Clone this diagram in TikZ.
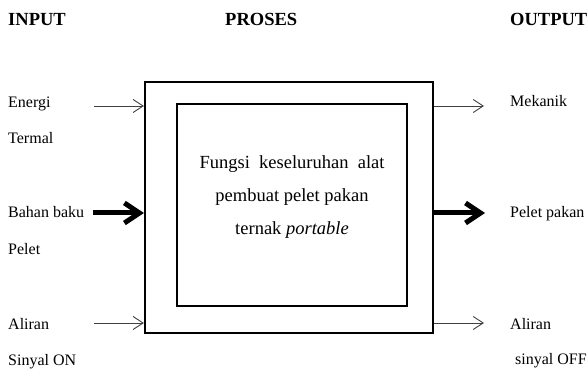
\documentclass[tikz,border=0pt]{standalone}
\usepackage{fontspec}
\setmainfont{Liberation Serif}
\usetikzlibrary{arrows.meta}
\tikzset{
  lbl/.style={anchor=base west, inner sep=0pt, font=\fontsize{16}{19}\selectfont},
  headlbl/.style={anchor=base west, inner sep=0pt, font=\fontsize{18.5}{22}\selectfont\bfseries},
  thinarrow/.style={draw=black!75, line width=0.9pt, -{Straight Barb[length=10pt,width=13pt]}},
  thickarrow/.style={line width=5pt, -{Straight Barb[length=15pt,width=20pt]}},
  box/.style={draw, line width=2.2pt, inner sep=0pt}
}
\begin{document}
\begin{tikzpicture}[x=1pt,y=-1pt]
  \useasboundingbox (0,0) rectangle (588,371);
  \node[box, minimum width=288pt, minimum height=251pt] (outer) at (289,207.5) {};
  \node[box, line width=2pt, minimum width=230pt, minimum height=202pt] (inner) at (292,205) {};
  \node[align=center, font=\fontsize{18.5}{33}\selectfont] (fungsi) at (292,197) {Fungsi\hspace{0.5em}keseluruhan\hspace{0.5em}alat\\pembuat pelet pakan\\ternak \textit{portable}};
  \node[headlbl] (input) at (8,26) {INPUT};
  \node[headlbl] (proses) at (225,26) {PROSES};
  \node[headlbl] (output) at (510,26) {OUTPUT};
  \coordinate (inA) at (94,106);
  \coordinate (inB) at (93,213);
  \coordinate (inC) at (94,323);
  \coordinate (outA) at (484,106);
  \coordinate (outB) at (485,213);
  \coordinate (outC) at (484,323);
  \draw[thinarrow] (inA) -- (inA -| outer.west);
  \draw[thickarrow] (inB) -- (inB -| outer.west);
  \draw[thinarrow] (inC) -- (inC -| outer.west);
  \draw[thinarrow] (outA -| outer.east) -- (outA);
  \draw[thickarrow] (outB -| outer.east) -- (outB);
  \draw[thinarrow] (outC -| outer.east) -- (outC);
  \node[lbl] (energi) at (8,108) {Energi};
  \node[lbl] (termal) at (8,144) {Termal};
  \node[lbl] (bahan) at (8,218) {Bahan baku};
  \node[lbl] (pelet) at (8,254) {Pelet};
  \node[lbl] (aliranin) at (8,329) {Aliran};
  \node[lbl] (sinyalon) at (8,365) {Sinyal ON};
  \node[lbl] (mekanik) at (510,107) {Mekanik};
  \node[lbl] (pakan) at (510,218) {Pelet pakan};
  \node[lbl] (aliranout) at (510,329) {Aliran};
  \node[lbl] (sinyaloff) at (515,364) {sinyal OFF};
\end{tikzpicture}
\end{document}
